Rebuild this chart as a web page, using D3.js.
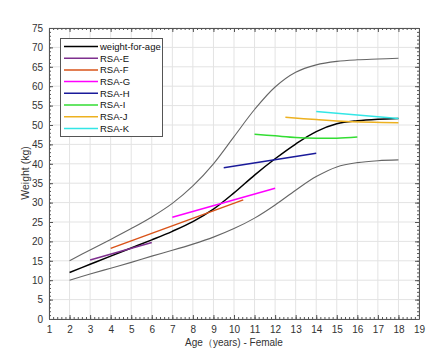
<!DOCTYPE html>
<html><head><meta charset="utf-8">
<script src="https://cdn.jsdelivr.net/npm/d3@7"></script>
<style>body{margin:0;background:#fff}svg{display:block}text{font-family:"Liberation Sans",Arial,sans-serif}</style>
</head><body><svg id="c" width="443" height="360"></svg>
<script>
const ages = [2,3,4,5,6,7,8,9,10,11,12,13,14,15,16,17,18];
const upper = [15,17.8,20.5,23.3,26.3,29.8,34.3,40,47,54,59.8,63.6,65.5,66.4,66.8,67,67.2];
const median = [12,14.1,16.2,18.3,20.4,22.6,25.1,28.3,32.5,37.1,41.3,45.1,48.3,50.3,51.1,51.5,51.7];
const lower = [10,11.6,13.1,14.6,16.2,17.7,19.3,21.1,23.3,26,29.4,33.2,36.7,39.2,40.3,40.8,41];
const rsaE = [[3,15.2],[6,19.7]];
const rsaF = [[4,18.2],[10.45,30.7]];
const rsaG = [[7,26.2],[12,33.7]];
const rsaH = [[9.5,39],[14,42.7]];
const rsaI = [[11,47.6],[12,47.2],[13,46.8],[14,46.6],[15,46.6],[16,46.9]];
const rsaJ = [[12.5,52],[14,51.4],[15.5,50.9],[18,50.6]];
const rsaK = [[14,53.5],[18,51.7]];
const legendNames = ["weight-for-age","RSA-E","RSA-F","RSA-G","RSA-H","RSA-I","RSA-J","RSA-K"];
const legendColors = ["#000000","#7e2f8e","#d95319","#ff00ff","#1a1a9a","#33dd33","#edb120","#33e6e6"];
const xTicks = d3.range(1,20);
const yTicks = d3.range(0,80,5);

const svg = d3.select("#c");
svg.append("rect").attr("width",443).attr("height",360).attr("fill","#fff");
const x = d3.scaleLinear().domain([1,19]).range([49,419]);
const y = d3.scaleLinear().domain([0,75]).range([319,28]);

const g = svg.append("g");
g.selectAll(".gx").data(xTicks).join("line").attr("x1",d=>x(d)).attr("x2",d=>x(d)).attr("y1",y(0)).attr("y2",y(75)).attr("stroke","#e3e3e3").attr("stroke-width",1);
g.selectAll(".gy").data(yTicks).join("line").attr("y1",d=>y(d)).attr("y2",d=>y(d)).attr("x1",x(1)).attr("x2",x(19)).attr("stroke","#e3e3e3").attr("stroke-width",1);

const axCol = "#555";
function styleAx(sel){sel.select(".domain").attr("stroke",axCol);sel.selectAll(".tick line").attr("stroke",axCol);sel.selectAll("text").attr("fill","#333").attr("font-size","10px");}
const minorX = d3.range(1,19.01,0.2), minorY = d3.range(0,75.01,1);
const xb = svg.append("g").attr("transform",`translate(0,${y(0)})`).call(d3.axisBottom(x).tickValues(xTicks).tickSize(-4).tickPadding(7).tickSizeOuter(0));
styleAx(xb);
svg.append("g").attr("transform",`translate(0,${y(0)})`).call(d3.axisBottom(x).tickValues(minorX).tickSize(-2).tickFormat("").tickSizeOuter(0)).call(s=>{s.select(".domain").remove();s.selectAll("line").attr("stroke",axCol);});
const xt = svg.append("g").attr("transform",`translate(0,${y(75)})`).call(d3.axisTop(x).tickValues(xTicks).tickSize(-4).tickFormat("").tickSizeOuter(0));
styleAx(xt);
svg.append("g").attr("transform",`translate(0,${y(75)})`).call(d3.axisTop(x).tickValues(minorX).tickSize(-2).tickFormat("").tickSizeOuter(0)).call(s=>{s.select(".domain").remove();s.selectAll("line").attr("stroke",axCol);});
const yl = svg.append("g").attr("transform",`translate(${x(1)},0)`).call(d3.axisLeft(y).tickValues(yTicks).tickSize(-4).tickPadding(6).tickSizeOuter(0));
styleAx(yl);
svg.append("g").attr("transform",`translate(${x(1)},0)`).call(d3.axisLeft(y).tickValues(minorY).tickSize(-2).tickFormat("").tickSizeOuter(0)).call(s=>{s.select(".domain").remove();s.selectAll("line").attr("stroke",axCol);});
const yr = svg.append("g").attr("transform",`translate(${x(19)},0)`).call(d3.axisRight(y).tickValues(yTicks).tickSize(-4).tickFormat("").tickSizeOuter(0));
styleAx(yr);
svg.append("g").attr("transform",`translate(${x(19)},0)`).call(d3.axisRight(y).tickValues(minorY).tickSize(-2).tickFormat("").tickSizeOuter(0)).call(s=>{s.select(".domain").remove();s.selectAll("line").attr("stroke",axCol);});

const line = d3.line().x(d=>x(d[0])).y(d=>y(d[1])).curve(d3.curveCatmullRom.alpha(0.5));
const zip = arr => ages.map((a,i)=>[a,arr[i]]);
const plot = (data,color,w)=>svg.append("path").datum(data).attr("d",line).attr("fill","none").attr("stroke",color).attr("stroke-width",w).attr("stroke-linecap","butt");
plot(zip(upper),"#666",1.1);
plot(zip(lower),"#666",1.1);
plot(zip(median),legendColors[0],1.5);
[rsaE,rsaF,rsaG,rsaH,rsaI,rsaJ,rsaK].forEach((d,i)=>plot(d,legendColors[i+1],1.5));

const lg = svg.append("g");
lg.append("rect").attr("x",60.5).attr("y",38.5).attr("width",102).attr("height",98).attr("fill","#fff").attr("stroke","#555").attr("stroke-width",1);
legendNames.forEach((n,i)=>{
  const yy = 46.5 + i*11.7;
  lg.append("line").attr("x1",64).attr("x2",98).attr("y1",yy).attr("y2",yy).attr("stroke",legendColors[i]).attr("stroke-width",1.5);
  lg.append("text").attr("x",100).attr("y",yy+3.4).attr("font-size","9.5px").attr("fill","#111").text(n);
});

svg.append("text").attr("x",234).attr("y",346).attr("text-anchor","middle").attr("font-size","10px").attr("fill","#333").text("Age（years) - Female");
svg.append("text").attr("transform","translate(29,173) rotate(-90)").attr("text-anchor","middle").attr("font-size","10.5px").attr("fill","#333").text("Weight (kg)");
</script></body></html>
